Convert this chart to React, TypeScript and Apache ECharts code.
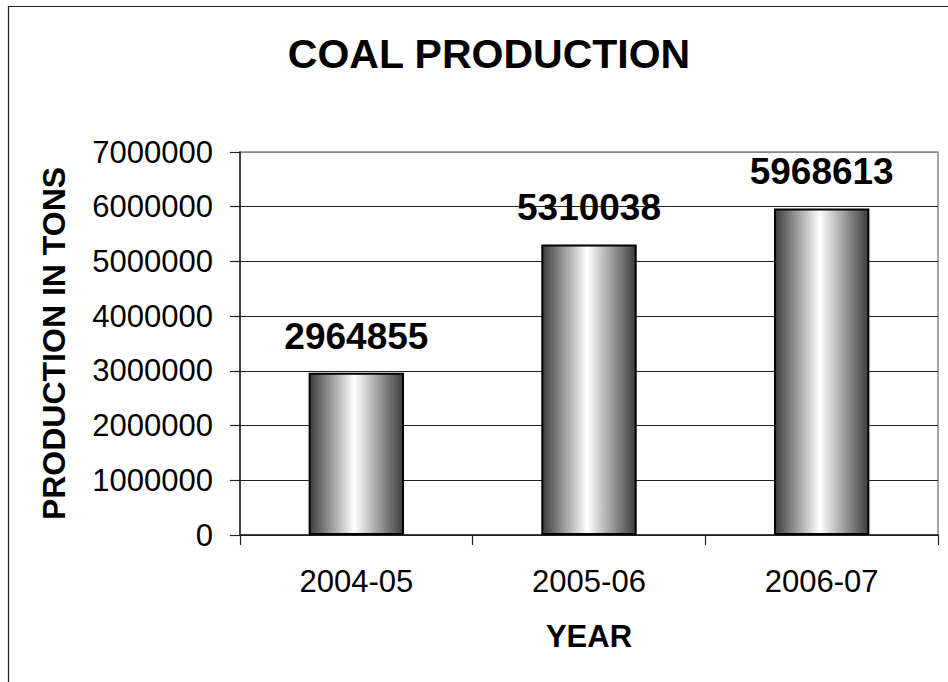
import React, { useEffect, useRef } from "react";
import * as echarts from "echarts";

const categories = ["2004-05", "2005-06", "2006-07"];
const production = [2964855, 5310038, 5968613];
const FONT = "Arial, 'Liberation Sans', sans-serif";

export default function App() {
  const ref = useRef<HTMLDivElement>(null);
  useEffect(() => {
    if (!ref.current) return;
    const chart = echarts.init(ref.current, null, { renderer: "svg" });
    const barColor = new echarts.graphic.LinearGradient(0, 0, 1, 0, [
      { offset: 0, color: "#3c3c3c" },
      { offset: 0.48, color: "#ffffff" },
      { offset: 1, color: "#3c3c3c" },
    ]);
    chart.setOption({
      animation: false,
      backgroundColor: "#ffffff",
      title: {
        text: "COAL PRODUCTION",
        left: 484,
        textAlign: "center",
        top: 28,
        textStyle: { fontFamily: FONT, fontSize: 41, fontWeight: "bold", color: "#000" },
      },
      graphic: [
        {
          type: "rect",
          shape: { x: 8.5, y: 6.5, width: 1200, height: 1200 },
          style: { fill: "none", stroke: "#222", lineWidth: 1.2 },
          silent: true,
        },
      ],
      grid: {
        left: 240,
        top: 152,
        right: 10,
        bottom: 147,
        show: true,
        borderColor: "#888",
        borderWidth: 1.5,
        backgroundColor: "transparent",
      },
      xAxis: {
        type: "category",
        data: categories,
        name: "YEAR",
        nameLocation: "middle",
        nameGap: 86,
        nameTextStyle: { fontFamily: FONT, fontSize: 31, fontWeight: "bold", color: "#000" },
        axisLine: { lineStyle: { color: "#222", width: 1.5 } },
        axisTick: { show: true, length: 10, inside: false, lineStyle: { color: "#222", width: 1.2 } },
        axisLabel: { fontFamily: FONT, fontSize: 31, color: "#000", margin: 31 },
      },
      yAxis: {
        type: "value",
        min: 0,
        max: 7000000,
        interval: 1000000,
        name: "PRODUCTION IN TONS",
        nameLocation: "middle",
        nameRotate: 90,
        nameGap: 170,
        nameTextStyle: { fontFamily: FONT, fontSize: 32, fontWeight: "bold", color: "#000" },
        axisLine: { show: true, lineStyle: { color: "#222", width: 1.5 } },
        axisTick: { show: true, length: 10, lineStyle: { color: "#222", width: 1.2 } },
        axisLabel: {
          fontFamily: FONT,
          fontSize: 31,
          color: "#000",
          margin: 27,
          formatter: (v: number) => String(v),
        },
        splitLine: {
          show: true,
          lineStyle: { color: ["#222", "#222", "#222", "#222", "#222", "#222", "#222", "#888"], width: 1 },
        },
      },
      series: [
        {
          type: "bar",
          data: production,
          barWidth: "41%",
          itemStyle: { color: barColor, borderColor: "#000", borderWidth: 2 },
          label: {
            show: true,
            position: "top",
            distance: 18,
            fontFamily: FONT,
            fontSize: 37,
            fontWeight: "bold",
            color: "#000",
          },
        },
      ],
    });
    return () => chart.dispose();
  }, []);
  return (
    <div
      ref={ref}
      style={{ position: "fixed", left: 0, top: 0, width: 948, height: 682 }}
    />
  );
}
